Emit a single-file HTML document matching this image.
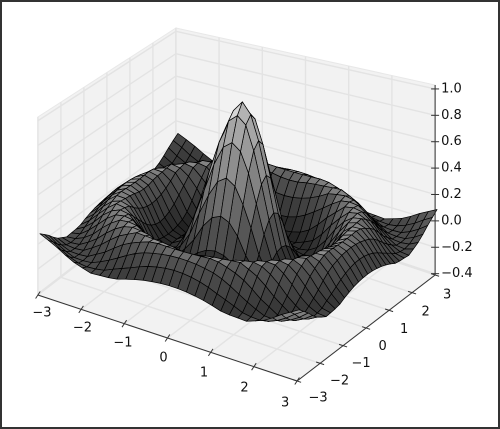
<!DOCTYPE html>
<html><head><meta charset="utf-8"><style>
html,body{margin:0;padding:0;background:#fff}
#wrap{width:500px;height:429px;position:relative;box-sizing:border-box;border:2px solid #333;overflow:hidden}
svg{position:absolute;left:-2px;top:-2px}
text{font-family:"DejaVu Sans","Liberation Sans",sans-serif;font-size:13px;fill:#111}
</style></head><body>
<div id="wrap">
<svg id="c" width="500" height="429"></svg>
</div>
<script>
// Data arrays
const xTicks = [-3,-2,-1,0,1,2,3];
const yTicks = [-3,-2,-1,0,1,2,3];
const zTicks = [-0.4,-0.2,0.0,0.2,0.4,0.6,0.8,1.0];
const zTickLabels = ["\u22120.4","\u22120.2","0.0","0.2","0.4","0.6","0.8","1.0"];
const xTickLabels = ["\u22123","\u22122","\u22121","0","1","2","3"];
const yTickLabels = ["\u22123","\u22122","\u22121","0","1","2","3"];
// radial profile of surface height (r step 0.25 from 0)
const profileR = [0,0.25,0.5,0.75,1.0,1.25,1.5,1.75,2.0,2.25,2.5,2.75,3.0,3.25,3.5,3.75,4.0,4.25,4.5];
const profileZ = [1.0,0.897,0.625,0.281,-0.018,-0.189,-0.215,-0.14,0.02,0.14,0.16,0.085,-0.025,-0.1,-0.11,-0.06,0.02,0.08,0.085];
const gridVals = [-3,-2.8,-2.6,-2.4,-2.2,-2,-1.8,-1.6,-1.4,-1.2,-1,-0.8,-0.6,-0.4,-0.2,0,0.2,0.4,0.6,0.8,1,1.2,1.4,1.6,1.8,2,2.2,2.4,2.6,2.8,3];

const ZMIN=-0.41, ZMAX=1.03;
const NS='http://www.w3.org/2000/svg';
const svg=document.getElementById('c');
function H(x,y){return 184+4.83*x-2.83*y;}
function P(x,y,z){
  const bx=236.5+43.2*x+23*y, by=285+14.33*x-17.67*y;
  return [bx, by-(z-ZMIN)/(ZMAX-ZMIN)*H(x,y)];
}
function PS(x,y,z){const p=P(x,y,z);p[0]+=6*(z-ZMIN)/(ZMAX-ZMIN);p[1]-=3*(z-ZMIN)/(ZMAX-ZMIN);return p;}
function el(tag,attrs,parent){const e=document.createElementNS(NS,tag);for(const k in attrs)e.setAttribute(k,attrs[k]);(parent||svg).appendChild(e);return e;}
function pts(a){return a.map(p=>p[0].toFixed(1)+','+p[1].toFixed(1)).join(' ');}

// panes
const panes=[
 [[-3,-3,ZMIN],[-3,3,ZMIN],[-3,3,ZMAX],[-3,-3,ZMAX]],
 [[-3,3,ZMIN],[3,3,ZMIN],[3,3,ZMAX],[-3,3,ZMAX]],
 [[-3,-3,ZMIN],[3,-3,ZMIN],[3,3,ZMIN],[-3,3,ZMIN]]
];
const paneNames=['left-pane','back-pane','floor-pane'];
panes.forEach((p,i)=>{
  const e=el('polygon',{points:pts(p.map(q=>P(...q))),fill:'#f2f2f2',stroke:'#e8e8e8','stroke-width':1});
  
  
});
const gridC='#e3e3e3';
function gl(a,b,name){const A=P(...a),B=P(...b);const e=el('line',{x1:A[0],y1:A[1],x2:B[0],y2:B[1],stroke:gridC,'stroke-width':1.4});
  
  }
yTicks.forEach(y=>{gl([-3,y,ZMIN],[-3,y,ZMAX],'gridline-y');gl([-3,y,ZMIN],[3,y,ZMIN],'gridline-y');});
xTicks.forEach(x=>{gl([x,3,ZMIN],[x,3,ZMAX],'gridline-x');gl([x,-3,ZMIN],[x,3,ZMIN],'gridline-x');});
zTicks.forEach(z=>{gl([-3,-3,z],[-3,3,z],'gridline-z');gl([-3,3,z],[3,3,z],'gridline-z');});

// surface
function zAt(x,y){
  const r=Math.sqrt(x*x+y*y);
  const step=profileR[1]-profileR[0];
  let i=Math.floor(r/step); if(i>=profileR.length-1) i=profileR.length-2;
  const t=(r-profileR[i])/step;
  return profileZ[i]*(1-t)+profileZ[i+1]*t;
}
const quads=[];
const L=[-0.5,0.6,0.62]; const Ln=Math.hypot(...L);
for(let i=0;i<gridVals.length-1;i++)for(let j=0;j<gridVals.length-1;j++){
  const x0=gridVals[i],x1=gridVals[i+1],y0=gridVals[j],y1=gridVals[j+1];
  const c=[[x0,y0],[x1,y0],[x1,y1],[x0,y1]].map(q=>[q[0],q[1],zAt(q[0],q[1])]);
  const zs=c.map(q=>q[2]); const zm=(zs[0]+zs[1]+zs[2]+zs[3])/4;
  const xm=(x0+x1)/2, ym=(y0+y1)/2;
  const depth=0.866*(0.5*xm-0.866*ym)/6+0.5*(zm-ZMIN)/(ZMAX-ZMIN)*0.75;
  const s=4;
  const dzdx=((zs[1]+zs[2])-(zs[0]+zs[3]))/2/(x1-x0)*s;
  const dzdy=((zs[2]+zs[3])-(zs[0]+zs[1]))/2/(y1-y0)*s;
  const n=[-dzdx,-dzdy,1]; const nn=Math.hypot(...n);
  const lam=Math.max(0,(n[0]*L[0]+n[1]*L[1]+n[2]*L[2])/(nn*Ln));
  quads.push({c,zm,depth,lam});
}
quads.sort((a,b)=>a.depth-b.depth);
const g=el('g',{});


quads.forEach(q=>{
  let v=(q.zm+0.22)/1.2; v=Math.max(0,Math.min(1,v));
  let gray=40+Math.pow(v,0.8)*260;
  gray=gray*(0.62+0.55*q.lam);
  gray=Math.max(20,Math.min(250,gray))|0;
  const e=el('polygon',{points:pts(q.c.map(p=>PS(...p))),fill:`rgb(${gray},${gray},${gray})`,stroke:'#000','stroke-width':0.7,'stroke-linejoin':'round'},g);
  
  
});

// axes lines
function axLine(a,b,name){const A=P(...a),B=P(...b);const e=el('line',{x1:A[0],y1:A[1],x2:B[0],y2:B[1],stroke:'#333','stroke-width':1});
  
  }
axLine([-3,-3,ZMIN],[3,-3,ZMIN],'x-axis-line');
axLine([3,-3,ZMIN],[3,3,ZMIN],'y-axis-line');
axLine([3,3,ZMIN],[3,3,ZMAX],'z-axis-line');

function txt(x,y,s,anchor,name){const e=el('text',{x:x,y:y,'text-anchor':anchor,'dominant-baseline':'central'});e.textContent=s;
  
  }
function tick(a,dx,dy){const A=P(...a);const e=el('line',{x1:A[0]-dx,y1:A[1]-dy,x2:A[0]+dx,y2:A[1]+dy,stroke:'#333','stroke-width':1});
  
  }
xTicks.forEach((x,i)=>{
  const A=P(x,-3,ZMIN); tick([x,-3,ZMIN],-2.3,3.5);
  const t=(x+3)/6;
  txt(A[0]+4-16*t, A[1]+18+4*t, xTickLabels[i],'middle','x-tick-label');
});
yTicks.forEach((y,i)=>{
  const A=P(3,y,ZMIN); tick([3,y,ZMIN],4,1.3);
  const t=(y+3)/6;
  txt(A[0]+21-9*t, A[1]+17+3*t, yTickLabels[i],'middle','y-tick-label');
});
zTicks.forEach((z,i)=>{
  const A=P(3,3,z); tick([3,3,z],4,0);
  txt(A[0]+6, A[1], zTickLabels[i],'start','z-tick-label');
});
</script>
</body></html>
